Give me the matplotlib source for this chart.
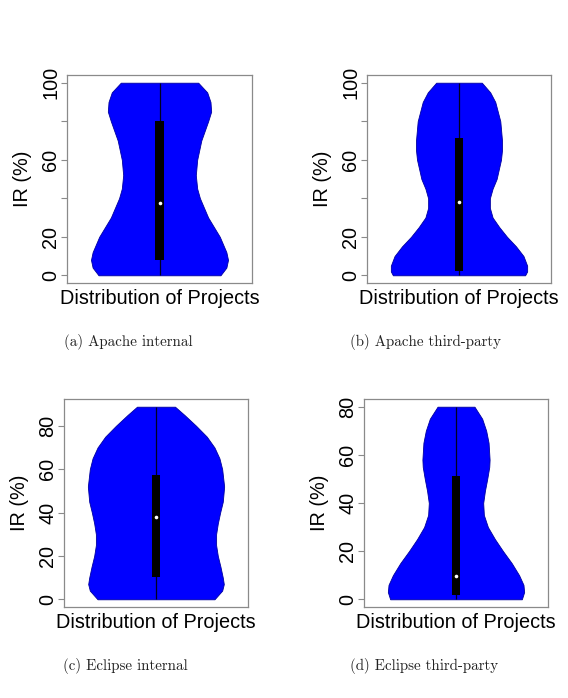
import matplotlib
matplotlib.use("Agg")
import matplotlib.pyplot as plt
from matplotlib.patches import Rectangle

# ---- data ----
panel_captions = ["(a) Apache internal", "(b) Apache third-party",
                  "(c) Eclipse internal", "(d) Eclipse third-party"]

# violin profiles: IR level (%) and relative density (max = 1)
a_levels = [0, 4, 8, 12, 20, 30, 40, 45, 52, 60, 70, 80, 85, 90, 95, 100]
a_density = [0.89, 0.976, 1.0, 0.976, 0.88, 0.71, 0.59, 0.55, 0.53, 0.55,
             0.61, 0.71, 0.754, 0.744, 0.696, 0.565]
b_levels = [0, 2, 5, 10, 15, 20, 25, 30, 35, 40, 45, 50, 60, 65, 70, 80, 90, 95, 100]
b_density = [0.97, 1.0, 1.0, 0.946, 0.837, 0.704, 0.591, 0.493, 0.453, 0.453,
             0.493, 0.552, 0.616, 0.631, 0.631, 0.606, 0.532, 0.458, 0.335]
c_levels = [0, 4, 7, 10, 15, 20, 25, 30, 35, 40, 45, 52, 60, 65, 70, 75, 80, 85, 88.8]
c_density = [0.858, 0.971, 0.995, 0.98, 0.946, 0.907, 0.882, 0.882, 0.907, 0.941,
             0.98, 1.0, 0.971, 0.931, 0.858, 0.745, 0.588, 0.417, 0.279]
d_levels = [0, 3, 6, 10, 15, 20, 25, 30, 35, 40, 45, 50, 55, 58, 65, 70, 75, 80]
d_density = [0.966, 1.0, 0.99, 0.926, 0.818, 0.69, 0.571, 0.468, 0.409, 0.399,
             0.424, 0.458, 0.488, 0.493, 0.478, 0.443, 0.384, 0.271]

# five-number summaries: min, Q1, median, Q3, max
a_stats = [0, 8.1, 37.5, 79.9, 100]
b_stats = [0, 2.1, 38.1, 71.5, 100]
c_stats = [0, 10.2, 38.0, 57.3, 88.8]
d_stats = [0, 1.8, 9.8, 51.3, 80]

ticks_ab = [0, 20, 40, 60, 80, 100]
labels_ab = ["0", "20", "", "60", "", "100"]
ticks_cd = [0, 20, 40, 60, 80]
labels_cd = ["0", "20", "40", "60", "80"]

# ---- figure ----
W, H = 568, 698
fig = plt.figure(figsize=(W / 100, H / 100), dpi=100)

SANS = "Liberation Sans"
FS = 14.3
FRAME = "#8a8a8a"

panels = [
    (67, 75, 185, a_levels, a_density, a_stats, ticks_ab, labels_ab),
    (367, 75, 184, b_levels, b_density, b_stats, ticks_ab, labels_ab),
    (64, 399, 184, c_levels, c_density, c_stats, ticks_cd, labels_cd),
    (364, 399, 184, d_levels, d_density, d_stats, ticks_cd, labels_cd),
]
cap_pos = [(128, 342), (426, 342), (125, 666), (424, 666)]

for i, (x0, y0, w, lev, dens, st, tks, tls) in enumerate(panels):
    h = 208
    ax = fig.add_axes([x0 / W, 1 - (y0 + h) / H, w / W, h / H])
    lo, hi = st[0], st[4]
    ext = 0.04 * (hi - lo)
    ax.set_ylim(lo - ext, hi + ext)
    ax.set_xlim(0.46, 1.54)

    half = [0.4 * d for d in dens]
    ax.fill_betweenx(lev, [1 - v for v in half], [1 + v for v in half],
                     facecolor="#0000ff", edgecolor="#0000a0", linewidth=0.6,
                     zorder=2)
    ax.vlines(1, st[0], st[4], color="#000022", linewidth=0.9, zorder=3)
    ax.add_patch(Rectangle((1 - 0.025, st[1]), 0.05, st[3] - st[1],
                           facecolor="black", edgecolor="none", zorder=4))
    ax.plot([1], [st[2]], "o", color="white", markersize=2.6,
            markeredgewidth=0, zorder=5)

    ax.set_xticks([])
    ax.set_yticks(tks)
    ax.set_yticklabels(tls, rotation=90, va="center", fontfamily=SANS,
                       fontsize=FS)
    ax.tick_params(axis="y", length=4.5, width=0.8, color=FRAME, pad=0.5)
    for sp in ax.spines.values():
        sp.set_color(FRAME)
        sp.set_linewidth(0.9)
    ax.set_ylabel("IR (%)", fontfamily=SANS, fontsize=FS, labelpad=6.5)
    ax.set_xlabel("Distribution of Projects", fontfamily=SANS, fontsize=FS,
                  labelpad=4)

    cx, cy = cap_pos[i]
    fig.text(cx / W, 1 - cy / H, panel_captions[i], ha="center", va="center",
             fontfamily="cmr10", fontsize=10.8, color="#222222")

fig.savefig("out.png", dpi=100)
